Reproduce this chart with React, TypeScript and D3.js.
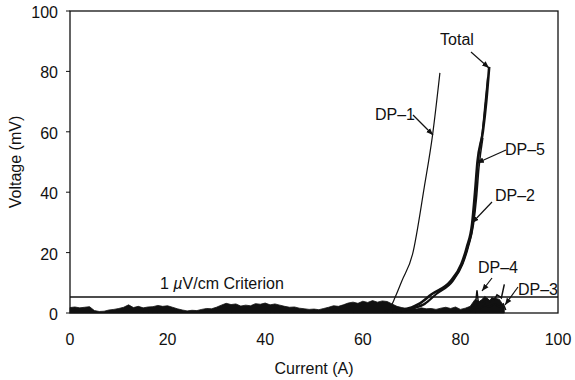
import React from "react";
import * as d3 from "d3";

const yTicks = [0, 20, 40, 60, 80, 100];
const xTicks = [0, 20, 40, 60, 80, 100];
const criterion = 5.3;

const noiseCurrent = d3.range(0, 90);
const noiseHigh = [
  1.8, 2.0, 1.7, 1.9, 2.1, 0.8, 0.5, 0.6, 1.0, 1.2,
  1.5, 1.9, 2.7, 1.8, 2.2, 1.7, 2.0, 2.1, 2.5, 2.2,
  2.4, 1.9, 1.4, 1.0, 0.7, 0.9, 0.8, 1.2, 1.5, 1.4,
  1.9, 2.6, 3.2, 2.8, 3.0, 2.3, 2.6, 2.4, 3.1, 2.9,
  3.3, 2.7, 3.0, 2.6, 2.2, 1.9, 2.0, 1.6, 1.4, 1.2,
  1.3, 1.1, 1.5, 1.9, 2.4, 2.2, 2.7, 3.3, 3.6, 3.2,
  3.9, 3.5, 4.1, 3.6, 4.0, 3.8, 3.0, 2.2, 1.8, 1.5,
  1.6, 1.3, 1.7, 1.4, 1.5, 1.2, 1.6, 1.9, 1.5, 2.0,
  1.2, 1.6, 2.2, 4.5, 3.8, 5.5, 4.2, 5.0, 4.5, 2.0,
];

const dp1Current = [64.5, 65.6, 66.6, 68.0, 70.2, 72.6, 74.3, 75.8];
const dp1Voltage = [0.6, 1.8, 5.1, 10.6, 19.5, 41.7, 59.0, 79.5];

const totalCurrent = [66, 68, 70, 71.4, 74.1, 78.0, 80.2, 81.3, 82.4, 83.0, 83.5, 84.6, 85.3, 85.9];
const totalVoltage = [0.6, 1.0, 1.8, 2.9, 6.2, 10.6, 16.2, 21.7, 29.5, 40, 50, 60, 70, 81.5];

const dp5Current = [66.5, 70, 72.5, 75, 78.3, 80.4, 81.5, 82.6, 83.2, 83.6, 84.5, 85.1, 85.6];
const dp5Voltage = [0.6, 1.6, 3.0, 6.3, 10.6, 16.2, 21.7, 29.5, 40, 50, 60, 70, 78];

const dp2Current = [68, 70.5, 72.7, 75.1, 78.5, 80.5, 81.6, 82.7, 83.3, 83.8, 84.6];
const dp2Voltage = [0.6, 1.5, 2.9, 6.2, 10.6, 16.2, 21.7, 29.5, 38, 48, 58];

const dp4Current = [82, 82.5, 83, 83.4, 83.7, 84.2, 85, 85.5, 86, 86.5, 87, 87.5, 88, 88.4, 89];
const dp4Voltage = [1, 2, 1.5, 7.5, 3, 4, 3.5, 4.5, 3.8, 5, 4.5, 6, 5.5, 5, 9.5];

const dp3Current = [82, 83, 84, 85, 86, 87, 88, 88.8, 89.3];
const dp3Voltage = [0.5, 2, 1.5, 2.5, 2, 3, 2, 3, 1];

const labels = [
  { text: "Total", x: 457, y: 45, ax1: 471, ay1: 52, ax2: 489, ay2: 68 },
  { text: "DP\u20131", x: 395, y: 120, ax1: 413, ay1: 115, ax2: 433, ay2: 135 },
  { text: "DP\u20135", x: 525, y: 155, ax1: 506, ay1: 150, ax2: 477, ay2: 163 },
  { text: "DP\u20132", x: 515, y: 201, ax1: 492, ay1: 202, ax2: 472, ay2: 223 },
  { text: "DP\u20134", x: 498, y: 273, ax1: 492, ay1: 278, ax2: 482, ay2: 291 },
  { text: "DP\u20133", x: 538, y: 295, ax1: 518, ay1: 287, ax2: 505, ay2: 305 },
];

export default function App() {
  const W = 575, H = 380;
  const x = d3.scaleLinear().domain([0, 100]).range([70, 558]);
  const y = d3.scaleLinear().domain([0, 100]).range([313, 11]);
  const font = "'Liberation Sans', Arial, sans-serif";
  const ink = "#111";

  const line = (cs: number[], vs: number[]) =>
    d3.line<number>().x((_, i) => x(cs[i])).y((_, i) => y(vs[i])).curve(d3.curveMonotoneX)(cs) || "";
  const rough = (cs: number[], vs: number[]) =>
    d3.line<number>().x((_, i) => x(cs[i])).y((_, i) => y(vs[i]))(cs) || "";
  const noiseArea =
    d3.area<number>().x((_, i) => x(noiseCurrent[i])).y0(y(0)).y1((_, i) => y(noiseHigh[i]))(noiseCurrent) || "";

  return (
    <svg width={W} height={H} style={{ position: "absolute", left: 0, top: 0, background: "#fff" }} fontFamily={font}>
      <defs>
        <marker id="ah" viewBox="0 0 10 10" refX="10" refY="5" markerWidth="7" markerHeight="7" orient="auto" markerUnits="userSpaceOnUse">
          <path d="M0,1 L10,5 L0,9 Z" fill={ink} />
        </marker>
      </defs>
      <rect x={x(0)} y={y(100)} width={x(100) - x(0)} height={y(0) - y(100)} fill="none" stroke={ink} strokeWidth={1.3} />
      {yTicks.map((t) => (
        <g key={t}>
          <line x1={x(0) - 4} x2={x(0)} y1={y(t)} y2={y(t)} stroke={ink} strokeWidth={1} />
          <text x={58} y={y(t) + 7} textAnchor="end" fontSize={16} fill={ink}>{t}</text>
        </g>
      ))}
      {xTicks.map((t) => (
        <text key={t} x={x(t)} y={345} textAnchor="middle" fontSize={16} fill={ink}>{t}</text>
      ))}
      <text x={314} y={374} textAnchor="middle" fontSize={16} fill={ink}>Current (A)</text>
      <text transform={`translate(21,${(y(0) + y(100)) / 2}) rotate(-90)`} textAnchor="middle" fontSize={16} fill={ink}>Voltage (mV)</text>

      <line x1={x(0)} x2={x(100)} y1={y(criterion)} y2={y(criterion)} stroke={ink} strokeWidth={1.6} />
      <text x={160} y={289} fontSize={16} fill={ink}>1 <tspan fontStyle="italic">µ</tspan>V/cm Criterion</text>

      <path d={noiseArea} fill={ink} stroke={ink} strokeWidth={0.8} />
      <path d={rough(dp3Current, dp3Voltage)} fill="none" stroke={ink} strokeWidth={1.5} />
      <path d={rough(dp4Current, dp4Voltage)} fill="none" stroke={ink} strokeWidth={1.5} />
      <path d={line(dp1Current, dp1Voltage)} fill="none" stroke={ink} strokeWidth={1.2} />
      <path d={line(dp2Current, dp2Voltage)} fill="none" stroke={ink} strokeWidth={1.5} />
      <path d={line(dp5Current, dp5Voltage)} fill="none" stroke={ink} strokeWidth={1.5} />
      <path d={line(totalCurrent, totalVoltage)} fill="none" stroke={ink} strokeWidth={2.6} />

      {labels.map((l) => (
        <g key={l.text}>
          <text x={l.x} y={l.y} textAnchor="middle" fontSize={16} fill={ink}>{l.text}</text>
          <line x1={l.ax1} y1={l.ay1} x2={l.ax2} y2={l.ay2} stroke={ink} strokeWidth={1.2} markerEnd="url(#ah)" />
        </g>
      ))}
    </svg>
  );
}
